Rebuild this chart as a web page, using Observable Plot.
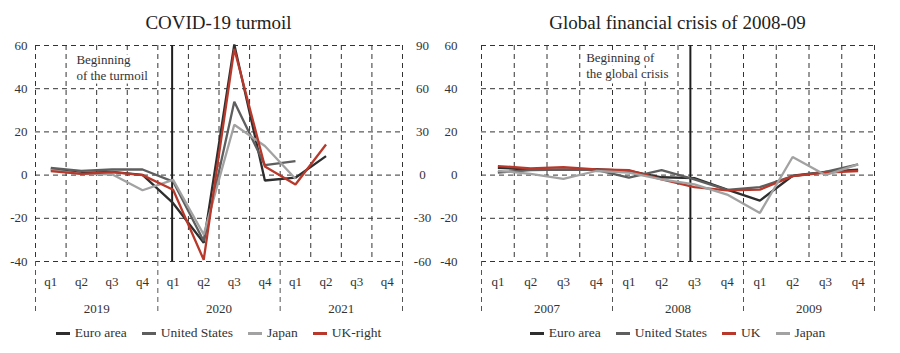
<!DOCTYPE html>
<html><head><meta charset="utf-8">
<script src="https://cdn.jsdelivr.net/npm/d3@7"></script>
<script src="https://cdn.jsdelivr.net/npm/@observablehq/plot@0.6"></script>
<style>
body{margin:0;background:#fff;font-family:"Liberation Serif","Times New Roman",serif;color:#333;}
#wrap{display:flex;width:900px;height:353px;overflow:hidden;}
.panel{width:450px;box-sizing:border-box;}
.title{height:35px;box-sizing:border-box;padding-top:12px;font-size:19px;line-height:21px;text-align:center;color:#222;white-space:nowrap;font-family:"Liberation Serif",serif;}
.legend{display:flex;justify-content:center;gap:15px;font-size:13.5px;line-height:16px;padding-top:6px;white-space:nowrap;font-family:"Liberation Serif",serif;}
.item{display:flex;align-items:center;}
.sw{width:14px;height:3px;margin-right:5px;}
svg{display:block;overflow:visible;}
svg text{font-family:"Liberation Serif",serif;}
</style></head>
<body><div id="wrap"><div class="panel" id="p1"></div><div class="panel" id="p2"></div></div>
<script>
// ---- COVID-19 panel data ----
const covidTitle = "COVID-19 turmoil";
const covidQuarters = ["q1","q2","q3","q4","q1","q2","q3","q4","q1","q2","q3","q4"];
const covidYears = ["2019","2020","2021"];
const covidEuro   = [2.8, 1.0, 1.5, 0.1, -13.0, -31.3, 60.5, -2.5, -1.2, 8.8];
const covidUS     = [3.3, 2.0, 2.6, 2.6, -3.0, -30.5, 34.0, 4.6, 6.5];
const covidJapan  = [2.3, 0.6, 0.4, -7.0, -2.2, -27.5, 23.3, 13.5, -1.7];
const covidUKRight= [2.8, 0.9, 2.1, 0.0, -10.2, -58.8, 87.7, 6.0, -6.5, 21.3];
const covidNote = "Beginning\nof the turmoil";
const covidEventQuarter = 4;   // q1 2020
const covidNoteQuarter = 1;    // q2 2019

// ---- Global financial crisis panel data ----
const gfcTitle = "Global financial crisis of 2008-09";
const gfcQuarters = ["q1","q2","q3","q4","q1","q2","q3","q4","q1","q2","q3","q4"];
const gfcYears = ["2007","2008","2009"];
const gfcEuro  = [3.4, 2.6, 2.4, 2.8, 2.0, -1.0, -1.4, -6.7, -11.8, -0.3, 1.5, 2.5];
const gfcUS    = [1.2, 2.3, 2.6, 2.4, -1.2, 2.3, -2.0, -6.8, -5.6, -0.5, 1.5, 5.0];
const gfcUK    = [4.2, 3.1, 3.7, 2.6, 2.3, -2.0, -5.6, -7.1, -6.7, -0.5, 1.1, 1.9];
const gfcJapan = [2.0, 0.6, -1.7, 1.9, 1.1, -2.0, -4.3, -9.0, -17.5, 8.4, 0.0, 5.0];
const gfcNote = "Beginning of\nthe global crisis";
const gfcEventQuarter = 6;     // q3 2008
const gfcNoteQuarter = 3;      // q4 2007

const yTicks = [-40, -20, 0, 20, 40, 60];
const rightFactor = 1.5;

const C = {euro:"#2e2e2e", us:"#5e5e5e", japan:"#a2a2a2", uk:"#b8392b"};
const FONT = "'Liberation Serif','Times New Roman',serif";

function buildPanel(el, cfg) {
  const n = cfg.quarters.length;
  const title = document.createElement("div");
  title.className = "title";
  title.style.paddingLeft = cfg.ml + "px";
  title.style.paddingRight = cfg.mr + "px";
  title.textContent = cfg.title;
  el.appendChild(title);

  const dash = "5,4";
  const grid = {stroke:"#333", strokeWidth:1, strokeDasharray: dash};
  const qCenters = cfg.quarters.map((q,i) => i + 0.5);
  const yCenters = cfg.years.map((y,i) => i*4 + 2);
  const bounds = d3.range(0, n + 1, 4);
  const txt = {fontSize: 13, fontFamily: FONT, fill: "#333", label: null};

  const marks = [
    Plot.ruleY(yTicks, grid),
    Plot.ruleX(d3.range(n + 1), grid),
    Plot.axisX({ticks: bounds, tickSize: 54, tickFormat: () => "", stroke:"#555", strokeDasharray: dash, label: null}),
    Plot.axisX({...txt, ticks: qCenters, tickFormat: d => cfg.quarters[Math.floor(d)], tickSize: 0, tickPadding: 15}),
    Plot.axisX({...txt, ticks: yCenters, tickFormat: d => cfg.years[Math.floor(d/4)], tickSize: 0, tickPadding: 42}),
    Plot.axisY({...txt, anchor:"left", ticks: yTicks, tickFormat: d => String(d), tickSize: 0, tickPadding: cfg.lp}),
  ];
  if (cfg.rightAxis) {
    marks.push(Plot.axisY({...txt, anchor:"right", ticks: yTicks, tickFormat: d => String(d*rightFactor), tickSize: 0, tickPadding: 20, textAnchor:"middle"}));
  }
  marks.push(Plot.text([cfg.note], {x: cfg.noteQuarter + 0.5, frameAnchor:"top", text: d => d, textAnchor:"start", lineAnchor:"top", dx: cfg.noteDx, dy: cfg.noteDy, lineHeight: 1.22, fontSize: 13, fontFamily: FONT, fill:"#333", stroke:"white", strokeWidth: 7}));
  marks.push(Plot.ruleX([cfg.eventQuarter + 0.5], {stroke:"#1e1e1e", strokeWidth: 2, dx: cfg.eventDx}));
  for (const s of cfg.series) {
    const rows = s.values.map((v,i) => ({x: i + 0.5, y: v / (s.factor || 1)}));
    marks.push(Plot.line(rows, {x:"x", y:"y", stroke: s.color, strokeWidth: 2.3, strokeLinejoin:"miter", strokeLinecap:"butt"}));
  }
  const svg = Plot.plot({
    width: 450, height: 284,
    marginTop: 10, marginBottom: 58, marginLeft: cfg.ml, marginRight: cfg.mr,
    x: {domain: [0, n], axis: null},
    y: {domain: [-40, 60], axis: null},
    style: {fontFamily: FONT, fontSize: "13px", color:"#333", background:"transparent", overflow:"visible"},
    marks
  });
  el.appendChild(svg);

  const lg = document.createElement("div");
  lg.className = "legend";
  lg.style.paddingLeft = cfg.ml + "px";
  lg.style.paddingRight = cfg.mr + "px";
  for (const s of cfg.legend) {
    const it = document.createElement("div");
    it.className = "item";
    const sw = document.createElement("span");
    sw.className = "sw";
    sw.style.background = s.color;
    const tx = document.createElement("span");
    tx.textContent = s.name;
    it.appendChild(sw); it.appendChild(tx);
    lg.appendChild(it);
  }
  el.appendChild(lg);
}

const covidSeries = [
  {name:"Euro area", values: covidEuro, color: C.euro},
  {name:"United States", values: covidUS, color: C.us},
  {name:"Japan", values: covidJapan, color: C.japan},
  {name:"UK-right", values: covidUKRight, color: C.uk, factor: rightFactor},
];
buildPanel(document.getElementById("p1"), {
  title: covidTitle, quarters: covidQuarters, years: covidYears,
  series: covidSeries, legend: covidSeries,
  ml: 35, mr: 48, lp: 8, rightAxis: true,
  note: covidNote, noteQuarter: covidNoteQuarter, noteDx: -5, noteDy: 7,
  eventQuarter: covidEventQuarter, eventDx: -1
});

const gfcSeries = [
  {name:"Euro area", values: gfcEuro, color: C.euro},
  {name:"United States", values: gfcUS, color: C.us},
  {name:"UK", values: gfcUK, color: C.uk},
  {name:"Japan", values: gfcJapan, color: C.japan},
];
buildPanel(document.getElementById("p2"), {
  title: gfcTitle, quarters: gfcQuarters, years: gfcYears,
  series: gfcSeries, legend: gfcSeries,
  ml: 31, mr: 26, lp: 24, rightAxis: false,
  note: gfcNote, noteQuarter: gfcNoteQuarter, noteDx: -10, noteDy: 5,
  eventQuarter: gfcEventQuarter, eventDx: -4
});
</script></body></html>
